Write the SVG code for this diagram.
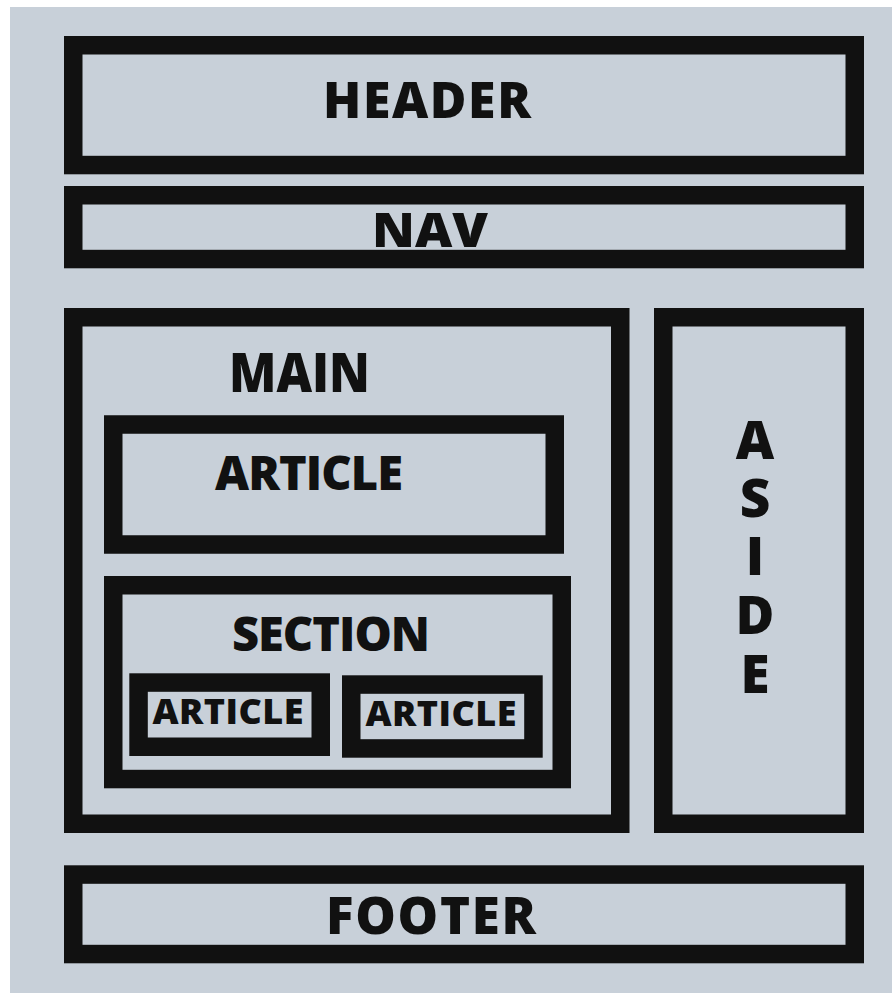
<svg xmlns="http://www.w3.org/2000/svg" width="892" height="993" viewBox="0 0 892 993">
<style>
.box{fill:none;stroke:#111111;stroke-width:18.5}
.t{font-family:"Open Sans","Liberation Sans",sans-serif;font-weight:800;fill:#111111}
</style>
<rect x="0" y="0" width="892" height="993" fill="#ffffff"/>
<rect x="10" y="7" width="882" height="986" fill="#c8d0d9"/>
<g id="header"><rect class="box" x="73.25" y="45.25" width="781.5" height="119.8"/><text class="t" x="323" y="118" font-size="50" textLength="208" lengthAdjust="spacing">HEADER</text></g>
<g id="nav"><rect class="box" x="73.25" y="195.25" width="781.5" height="63.8"/><text class="t" x="372" y="247" font-size="47" textLength="116" lengthAdjust="spacingAndGlyphs">NAV</text></g>
<g id="main"><rect class="box" x="73.25" y="317.25" width="547" height="506.5"/><text class="t" x="229" y="392" font-size="54" textLength="141" lengthAdjust="spacingAndGlyphs">MAIN</text></g>
<g id="article"><rect class="box" x="113.25" y="424.5" width="441.5" height="120"/><text class="t" x="215" y="490" font-size="47" textLength="188" lengthAdjust="spacing">ARTICLE</text></g>
<g id="section"><rect class="box" x="113.25" y="585.25" width="448.5" height="193.8"/><text class="t" x="232" y="651" font-size="47" textLength="198" lengthAdjust="spacing">SECTION</text></g>
<g id="article1"><rect class="box" x="138.55" y="682.55" width="182.2" height="64.2"/><text class="t" x="152.5" y="723.5" font-size="36" textLength="151" lengthAdjust="spacing">ARTICLE</text></g>
<g id="article2"><rect class="box" x="351.25" y="684.55" width="182.2" height="63.9"/><text class="t" x="365.5" y="725.7" font-size="36" textLength="151" lengthAdjust="spacing">ARTICLE</text></g>
<g id="aside"><rect class="box" x="663.25" y="317.25" width="191.5" height="506.5"/>
<text class="t" font-size="53" text-anchor="middle" x="755" y="459">A</text>
<text class="t" font-size="53" text-anchor="middle" x="755" y="517">S</text>
<text class="t" font-size="53" text-anchor="middle" x="755" y="575">I</text>
<text class="t" font-size="53" text-anchor="middle" x="755" y="634">D</text>
<text class="t" font-size="53" text-anchor="middle" x="755" y="693">E</text></g>
<g id="footer"><rect class="box" x="73.25" y="874.55" width="781.5" height="79.5"/><text class="t" x="326" y="934" font-size="51" textLength="210" lengthAdjust="spacing">FOOTER</text></g>
<g id="connectors"></g>
</svg>
